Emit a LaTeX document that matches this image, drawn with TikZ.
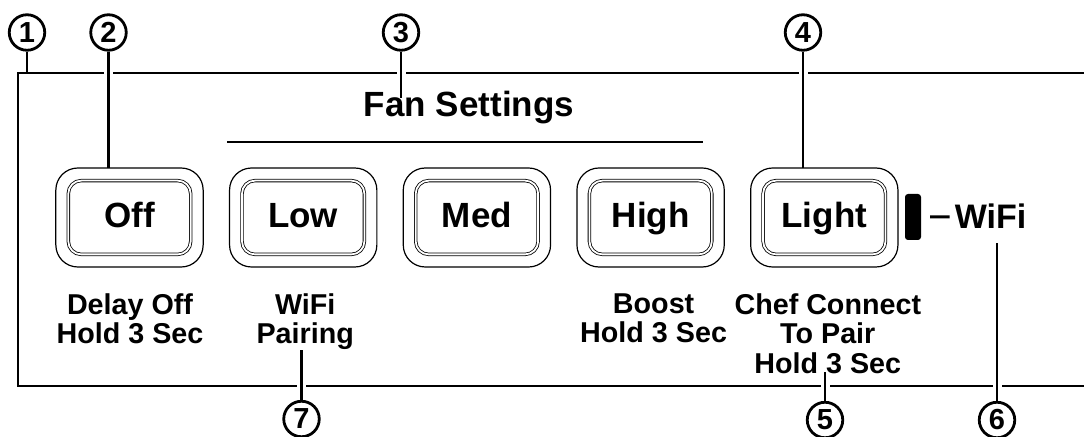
\documentclass[tikz,border=0pt]{standalone}
\usepackage{fontspec}
\setmainfont{Liberation Sans}
\usetikzlibrary{positioning}
\tikzset{
  frame/.style={line width=2.8bp},
  lead/.style={line width=2.8bp, preaction={draw=white, line width=9bp}},
  num/.style={circle, draw, fill=white, line width=2.8bp, minimum size=35.5bp, inner sep=0pt,
    font=\bfseries\fontsize{29bp}{32bp}\selectfont},
  rim/.style={draw, rounded corners=22bp, line width=1.2bp, minimum width=147.3bp,
    minimum height=99bp, inner sep=0pt},
  key/.style={draw, double, double distance=1.8bp, line width=0.8bp, rounded corners=13bp,
    minimum width=122.4bp, minimum height=73.8bp, inner sep=0pt, text height=25bp, text depth=4bp,
    font=\bfseries\fontsize{35bp}{40bp}\selectfont},
  note/.style={align=center, inner sep=0pt, anchor=north,
    font=\bfseries\fontsize{28.7bp}{29.5bp}\selectfont},
  title/.style={inner sep=0pt, anchor=base, font=\bfseries\fontsize{35bp}{40bp}\selectfont},
  led/.style={fill=black, rounded corners=3bp, minimum width=16bp, minimum height=46bp, inner sep=0pt},
  tick/.style={line width=3bp, shorten <=9bp, shorten >=5bp}
}
\begin{document}
\begin{tikzpicture}[x=1bp, y=-1bp]
\useasboundingbox (0,0) rectangle (1084,437);
% panel outline
\draw[frame] (1084,73) -| (18,386) -- (1084,386);
% callout numbers
\node[num] (n1) at (27,32.5) {1};
\node[num] (n2) at (108.5,32.5) {2};
\node[num] (n3) at (401,32.5) {3};
\node[num] (n4) at (803,32.5) {4};
\node[num] (n5) at (825,420) {5};
\node[num] (n6) at (997,420) {6};
\node[num] (n7) at (301.5,419) {7};
\coordinate (p1) at (27,73);
\coordinate (p2) at (108.5,168);
\coordinate (p3) at (401,98);
\coordinate (p4) at (803,168);
\coordinate (p5) at (825,372);
\coordinate (p6) at (997,243);
\coordinate (p7) at (301.5,350);
\draw[frame] (n1) -- (p1);
\draw[lead] (n2) -- (p2);
\draw[lead] (n3) -- (p3);
\draw[lead] (n4) -- (p4);
\draw[lead] (n5) -- (p5);
\draw[lead] (n6) -- (p6);
\draw[lead] (n7) -- (p7);
% fan group
\node[title] (fan) at (469,117) {Fan Settings};
\draw[frame] (227,142) -- (703,142);
% buttons
\node[rim] (offrim) at (129.5,217.5) {};
\node[rim] (lowrim) [right=25.2bp of offrim] {};
\node[rim] (medrim) [right=25.2bp of lowrim] {};
\node[rim] (highrim) [right=25.2bp of medrim] {};
\node[rim] (lightrim) [right=25.2bp of highrim] {};
\node[key] (off) at (offrim) {Off};
\node[key] (low) at (lowrim) {Low};
\node[key] (med) at (medrim) {Med};
\node[key] (high) at (highrim) {High};
\node[key] (light) at (lightrim) {Light};
% wifi indicator
\node[led] (led) at (913,217) {};
\node[title, font=\bfseries\fontsize{34bp}{40bp}\selectfont] (wifi) at (990.5,229) {WiFi};
\draw[tick] (led) -- (wifi);
% hold functions
\node[note] (delay) [below=25.5bp of offrim, xshift=0.5bp] {Delay Off\\Hold 3 Sec};
\node[note] (pair) [below=25.5bp of lowrim, xshift=2bp] {WiFi\\Pairing};
\node[note] (boost) [below=25.5bp of highrim, xshift=3bp] {Boost\\Hold 3 Sec};
\node[note] (chef) [below=25.5bp of lightrim, xshift=3.5bp] {Chef Connect\\To Pair\\Hold 3 Sec};
\end{tikzpicture}
\end{document}
